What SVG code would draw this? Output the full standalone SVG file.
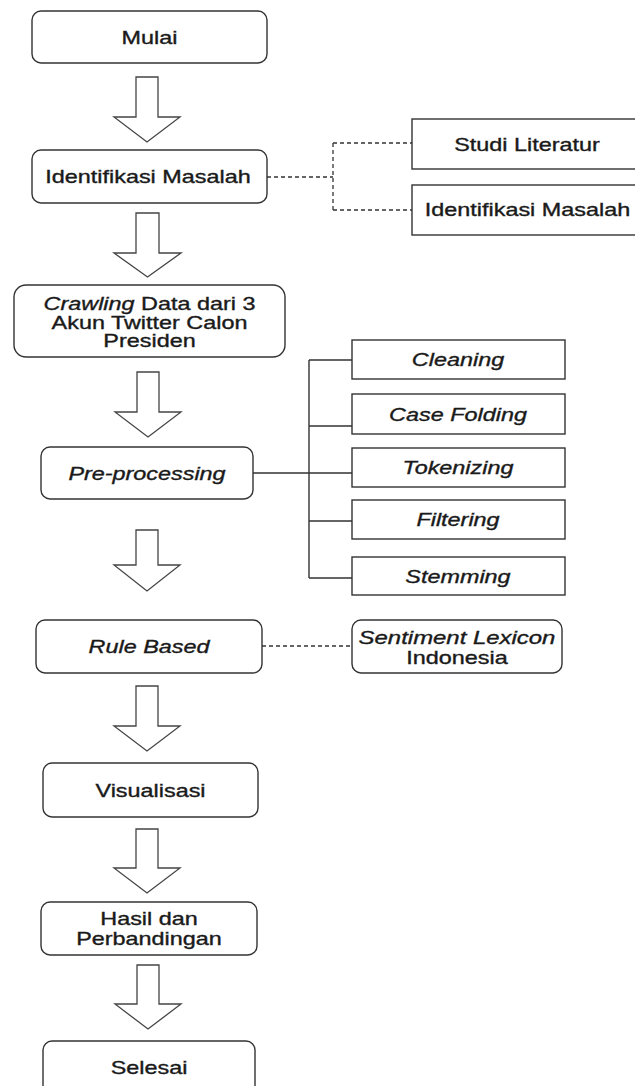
<svg xmlns="http://www.w3.org/2000/svg" width="635" height="1086" viewBox="0 0 635 1086">
<style>
.box{fill:#fff;stroke:#333;stroke-width:1.4}
.arr{fill:#fff;stroke:#444;stroke-width:1.3;stroke-linejoin:miter}
.t{font-family:"Liberation Sans",Arial,sans-serif;font-size:18px;fill:#1a1a1a;stroke:#1a1a1a;stroke-width:0.35;text-anchor:middle}
.i{font-style:italic}
.dash{fill:none;stroke:#333;stroke-width:1.3;stroke-dasharray:4 3}
.line{fill:none;stroke:#333;stroke-width:1.4}
</style>
<rect width="635" height="1086" fill="#fff"/>
<g id="connectors">
<path class="dash" d="M267,177 H333 M333,143 V210 M333,143 H412 M333,210 H412"/>
<path class="line" d="M253,473 H309 M309,360 V578 M309,360 H352 M309,426 H352 M309,473 H352 M309,521 H352 M309,578 H352"/>
<path class="dash" d="M262,646 H352"/>
<polygon class="arr" points="136,77 158,77 158,117 180,117 147,142 114,117 136,117"/>
<polygon class="arr" points="136,213 159,213 159,253 181,253 147.5,277 114,253 136,253"/>
<polygon class="arr" points="137,372 159,372 159,412 181,412 148,437 115,412 137,412"/>
<polygon class="arr" points="136,530 158,530 158,565 180,565 147,591 114,565 136,565"/>
<polygon class="arr" points="136,686 158,686 158,726 180,726 147,751 114,726 136,726"/>
<polygon class="arr" points="136,829 158,829 158,868 180,868 147,893 114,868 136,868"/>
<polygon class="arr" points="137,965 159,965 159,1004 181,1004 148,1029 115,1004 137,1004"/>
</g>
<g id="mulai"><rect class="box" x="32" y="11" width="235" height="52" rx="9"/><text class="t" transform="translate(149.5,44) scale(1.3,1)">Mulai</text></g>
<g id="identifikasi"><rect class="box" x="32" y="150" width="235" height="53" rx="9"/><text class="t" transform="translate(148,183) scale(1.3,1)">Identifikasi Masalah</text></g>
<g id="studi"><rect class="box" x="412" y="119" width="240" height="50"/><text class="t" transform="translate(527,150.5) scale(1.3,1)">Studi Literatur</text></g>
<g id="identifikasi2"><rect class="box" x="412" y="185" width="240" height="50"/><text class="t" transform="translate(527.5,216) scale(1.3,1)">Identifikasi Masalah</text></g>
<g id="crawling"><rect class="box" x="14" y="285" width="271" height="72" rx="12"/>
<text class="t" transform="translate(149.5,309.5) scale(1.3,1)"><tspan class="i">Crawling</tspan> Data dari 3</text>
<text class="t" transform="translate(149.5,328.5) scale(1.3,1)">Akun Twitter Calon</text>
<text class="t" transform="translate(149.5,347) scale(1.3,1)">Presiden</text></g>
<g id="preprocessing"><rect class="box" x="41" y="447" width="212" height="52" rx="9"/><text class="t i" transform="translate(147,480) scale(1.3,1)">Pre-processing</text></g>
<g id="cleaning"><rect class="box" x="352" y="340" width="213" height="39"/><text class="t i" transform="translate(458,366) scale(1.3,1)">Cleaning</text></g>
<g id="casefolding"><rect class="box" x="352" y="394" width="213" height="40"/><text class="t i" transform="translate(458,420.5) scale(1.3,1)">Case Folding</text></g>
<g id="tokenizing"><rect class="box" x="352" y="448" width="213" height="39"/><text class="t i" transform="translate(458,474) scale(1.3,1)">Tokenizing</text></g>
<g id="filtering"><rect class="box" x="352" y="500" width="213" height="39"/><text class="t i" transform="translate(458,526) scale(1.3,1)">Filtering</text></g>
<g id="stemming"><rect class="box" x="352" y="557" width="213" height="38"/><text class="t i" transform="translate(458,582.5) scale(1.3,1)">Stemming</text></g>
<g id="rulebased"><rect class="box" x="36" y="620" width="226" height="53" rx="9"/><text class="t i" transform="translate(149,653) scale(1.3,1)">Rule Based</text></g>
<g id="lexicon"><rect class="box" x="352" y="620" width="210" height="53" rx="9"/>
<text class="t i" transform="translate(457,643.5) scale(1.33,1)">Sentiment Lexicon</text>
<text class="t" transform="translate(457,663.5) scale(1.3,1)">Indonesia</text></g>
<g id="visualisasi"><rect class="box" x="43" y="763" width="215" height="54" rx="9"/><text class="t" transform="translate(150.5,796.5) scale(1.3,1)">Visualisasi</text></g>
<g id="hasil"><rect class="box" x="41" y="902" width="216" height="53" rx="9"/>
<text class="t" transform="translate(149,924.5) scale(1.3,1)">Hasil dan</text>
<text class="t" transform="translate(149,944.5) scale(1.3,1)">Perbandingan</text></g>
<g id="selesai"><rect class="box" x="43" y="1041" width="212" height="54" rx="9"/><text class="t" transform="translate(149,1073.5) scale(1.3,1)">Selesai</text></g>
</svg>
